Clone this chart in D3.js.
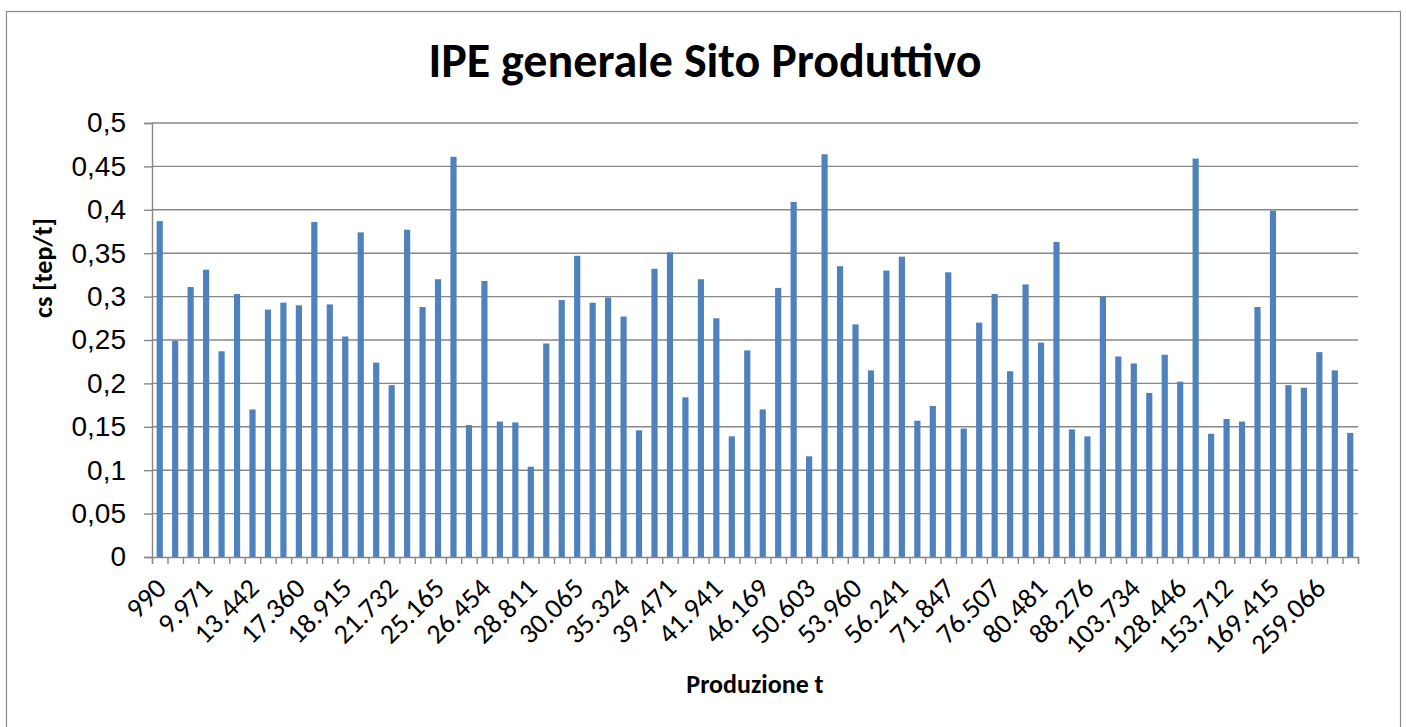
<!DOCTYPE html>
<html lang="it">
<head>
  <meta charset="UTF-8">
  <title>IPE generale Sito Produttivo</title>
  <style>
    body {
      margin: 0;
      background: #fff;
      font-family: Carlito, Lato, "DejaVu Sans", sans-serif;
    }
    svg { display: block; }
    .grid line { stroke: #878787; stroke-width: 1.4; }
    .axis path, .axis line { stroke: #878787; stroke-width: 1.4; }
    .axis text { fill: #000; }
  </style>
</head>
<body>
  <script src="https://d3js.org/d3.v7.min.js"></script>
  <script>
    // valori cs [tep/t], uno per barra (78 barre)
    const values = [
      0.387, 0.249, 0.311, 0.331, 0.237, 0.303, 0.170, 0.285, 0.293, 0.290,
      0.386, 0.291, 0.254, 0.374, 0.224, 0.198, 0.377, 0.288, 0.320, 0.461,
      0.152, 0.318, 0.156, 0.155, 0.104, 0.246, 0.296, 0.347, 0.293, 0.299,
      0.277, 0.146, 0.332, 0.351, 0.184, 0.320, 0.275, 0.139, 0.238, 0.170,
      0.310, 0.409, 0.116, 0.464, 0.335, 0.268, 0.215, 0.330, 0.346, 0.157,
      0.174, 0.328, 0.148, 0.270, 0.303, 0.214, 0.314, 0.247, 0.363, 0.147,
      0.139, 0.300, 0.231, 0.223, 0.189, 0.233, 0.202, 0.459, 0.142, 0.159,
      0.156, 0.288, 0.399, 0.198, 0.195, 0.236, 0.215, 0.143
    ]

    // etichette della produzione visibili (una ogni 3 barre)
    const xLabels = [
      "990", "9.971", "13.442", "17.360", "18.915", "21.732", "25.165",
      "26.454", "28.811", "30.065", "35.324", "39.471", "41.941", "46.169",
      "50.603", "53.960", "56.241", "71.847", "76.507", "80.481", "88.276",
      "103.734", "128.446", "153.712", "169.415", "259.066"
    ]
    const labelStep = 3

    const yTicks = [0, 0.05, 0.1, 0.15, 0.2, 0.25, 0.3, 0.35, 0.4, 0.45, 0.5]

    const width = 1406
    const height = 727
    const plot = { left: 152, right: 1358, top: 123, bottom: 557 }

    const it = d3.formatLocale({ decimal: ",", thousands: ".", grouping: [3], currency: ["€", ""] })
    const fmt = it.format("~g")

    const svg = d3.select("body").append("svg")
      .attr("width", width)
      .attr("height", height)

    // cornice del grafico
    svg.append("rect")
      .attr("x", 6.5).attr("y", 11.5)
      .attr("width", 1394).attr("height", 740)
      .attr("fill", "#fff")
      .attr("stroke", "#8c8c8c")
      .attr("stroke-width", 1.2)

    const idx = d3.range(values.length)

    const x = d3.scaleBand()
      .domain(idx)
      .range([plot.left, plot.right])
      .paddingInner(0.6)
      .paddingOuter(0.3)

    // confini tra categorie, per i segni di graduazione
    const xEdge = d3.scaleLinear()
      .domain([0, values.length])
      .range([plot.left, plot.right])

    const y = d3.scaleLinear()
      .domain([0, 0.5])
      .range([plot.bottom, plot.top])

    // griglia orizzontale
    svg.append("g")
      .attr("class", "grid")
      .selectAll("line")
      .data(yTicks.filter(d => d > 0))
      .join("line")
      .attr("x1", plot.left).attr("x2", plot.right)
      .attr("y1", d => y(d)).attr("y2", d => y(d))

    // asse y
    svg.append("g")
      .attr("class", "axis")
      .attr("transform", `translate(${plot.left},0)`)
      .call(d3.axisLeft(y).tickValues(yTicks).tickFormat(fmt).tickSize(8).tickPadding(18))
      .call(g => g.selectAll("text").attr("font-size", 28).attr("font-family", null))

    // barre
    svg.append("g")
      .selectAll("rect")
      .data(values)
      .join("rect")
      .attr("x", (d, i) => x(i))
      .attr("y", d => y(d))
      .attr("width", x.bandwidth())
      .attr("height", d => y(0) - y(d))
      .attr("fill", "#4f81bd")

    // asse x: segni ai confini
    svg.append("g")
      .attr("class", "axis")
      .attr("transform", `translate(0,${plot.bottom})`)
      .call(d3.axisBottom(xEdge).tickValues(d3.range(values.length + 1)).tickFormat("").tickSizeOuter(0).tickSize(7))

    // etichette ruotate
    svg.append("g")
      .attr("font-size", 28)
      .selectAll("text")
      .data(xLabels)
      .join("text")
      .attr("text-anchor", "end")
      .attr("transform", (d, i) => `translate(${x(i * labelStep) + x.bandwidth() / 2 + 8},${plot.bottom + 33}) rotate(-45)`)
      .text(d => d)

    // titolo
    svg.append("text")
      .attr("x", 705).attr("y", 77)
      .attr("text-anchor", "middle")
      .attr("font-size", 48)
      .attr("font-weight", "bold")
      .text("IPE generale Sito Produttivo")

    // titoli degli assi
    svg.append("text")
      .attr("x", 755).attr("y", 693)
      .attr("text-anchor", "middle")
      .attr("font-size", 26)
      .attr("font-weight", "bold")
      .text("Produzione t")

    svg.append("text")
      .attr("transform", "translate(52,268) rotate(-90)")
      .attr("text-anchor", "middle")
      .attr("font-size", 26)
      .attr("font-weight", "bold")
      .text("cs [tep/t]")
  </script>
</body>
</html>
